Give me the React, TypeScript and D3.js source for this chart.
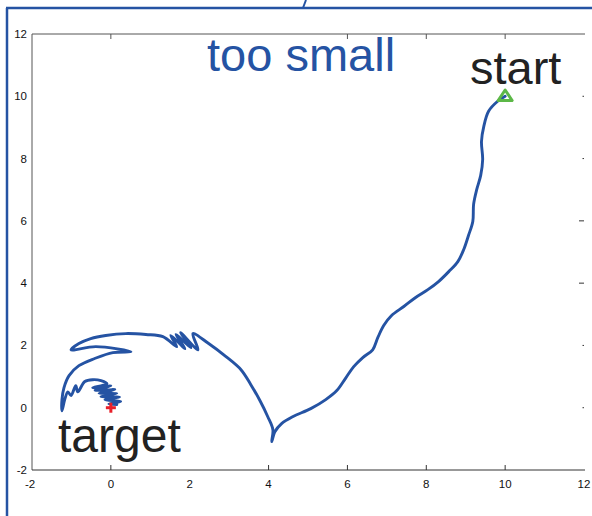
import React from "react";
import * as d3 from "d3";

// Trajectory from start (10,10) to the target at the origin
const pathX = [
  10.0, 9.81, 9.58, 9.46, 9.4, 9.43, 9.38, 9.28, 9.2, 9.18, 9.07, 8.95, 8.8, 8.57, 8.31, 8.04, 7.73, 7.43, 7.12, 6.92,
  6.77, 6.64, 6.39, 6.16, 5.96, 5.73, 5.45, 5.07, 4.61, 4.33, 4.16, 4.08, 4.11, 3.98, 3.78, 3.55, 3.3, 2.92, 2.48, 2.08,
  2.21, 1.77, 2.03, 1.65, 1.88, 1.52, 1.67, 1.32, 0.89, 0.38, -0.13, -0.51, -0.81, -1.01, -0.38, 0.51, 0.05, -0.41,
  -0.81, -1.06, -1.19, -1.24, -1.24, -1.17, -1.09, -1.01, -0.89, -0.84, -0.66, -0.46, -0.25, -0.1, -0.46, 0.0, -0.4,
  0.1, -0.3, 0.15, -0.25, 0.22, -0.15, 0.25, -0.05, 0.15,
];
const pathY = [
  10.0, 9.84, 9.52, 9.04, 8.55, 7.97, 7.46, 7.01, 6.53, 5.98, 5.53, 5.08, 4.69, 4.37, 4.05, 3.79, 3.54, 3.25, 2.96, 2.64,
  2.25, 1.86, 1.61, 1.32, 0.96, 0.55, 0.26, -0.03, -0.29, -0.51, -0.77, -1.09, -0.71, -0.29, 0.23, 0.74, 1.22, 1.64, 2.06,
  2.38, 1.86, 2.41, 1.93, 2.35, 1.9, 2.32, 1.96, 2.28, 2.35, 2.38, 2.32, 2.22, 2.06, 1.86, 1.96, 1.8, 1.77, 1.58, 1.35,
  1.03, 0.64, 0.26, -0.1, 0.26, 0.51, 0.39, 0.71, 0.51, 0.84, 0.9, 0.87, 0.77, 0.64, 0.7, 0.56, 0.58, 0.46, 0.46, 0.36,
  0.34, 0.26, 0.2, 0.12, 0.1,
];

const startPoint = [10, 10];
const targetPoint = [0, 0];

const xTicks = [-2, 0, 2, 4, 6, 8, 10, 12];
const yTicks = [-2, 0, 2, 4, 6, 8, 10, 12];
const bottomTickMarks = [0, 4, 6, 8, 10];
const topTickMarks = [0, 6, 8, 10];
const rightTickMarks = [10, 8, 6, 4, 2, 0];

const W = 592;
const H = 516;
const BLUE = "#2553a3";
const AXIS = "#555";

export default function App() {
  const x = d3.scaleLinear().domain([-2, 12]).range([32, 584]);
  const y = d3.scaleLinear().domain([-2, 12]).range([470, 34]);

  const pts: [number, number][] = pathX.map((v, i) => [v, pathY[i]]);
  const line = d3
    .line<[number, number]>()
    .x((d) => x(d[0]))
    .y((d) => y(d[1]))
    .curve(d3.curveCatmullRom.alpha(0.5));

  const sx = x(startPoint[0]);
  const sy = y(startPoint[1]);
  const tri = 7;
  const triPath = `M${sx},${sy - tri * 0.9} L${sx + tri},${sy + tri * 0.6} L${sx - tri},${sy + tri * 0.6} Z`;

  const tx = x(targetPoint[0]);
  const ty = y(targetPoint[1]);

  const font = "'Liberation Sans', Arial, Helvetica, sans-serif";

  return (
    <svg
      width={W}
      height={H}
      style={{ position: "absolute", left: 0, top: 0, background: "#fff" }}
      fontFamily={font}
    >
      {/* outer blue frame */}
      <line x1={7} y1={516} x2={7} y2={8} stroke={BLUE} strokeWidth={2.5} />
      <line x1={6} y1={8} x2={592} y2={8} stroke={BLUE} strokeWidth={2.5} />
      <line x1={303} y1={8} x2={306} y2={0} stroke={BLUE} strokeWidth={2} />

      {/* axes box (open on the right) */}
      <line x1={x(-2)} y1={y(12)} x2={x(-2)} y2={y(-2)} stroke={AXIS} strokeWidth={1} />
      <line x1={x(-2)} y1={y(12)} x2={x(12) + 1} y2={y(12)} stroke={AXIS} strokeWidth={1} />
      <line x1={x(-2)} y1={y(-2)} x2={x(12) + 1} y2={y(-2)} stroke="#333" strokeWidth={1} />

      {bottomTickMarks.map((t) => (
        <line key={"b" + t} x1={x(t)} x2={x(t)} y1={y(-2)} y2={y(-2) - 5} stroke="#333" />
      ))}
      {topTickMarks.map((t) => (
        <line key={"t" + t} x1={x(t)} x2={x(t)} y1={y(12)} y2={y(12) + 5} stroke={AXIS} />
      ))}
      {rightTickMarks.map((t) => (
        <line
          key={"r" + t}
          x1={x(12) - (t === 6 || t === 4 ? 5 : 1.5)}
          x2={x(12)}
          y1={y(t)}
          y2={y(t)}
          stroke="#333"
        />
      ))}

      {xTicks.map((t) => (
        <text key={"xl" + t} x={x(t) + (t < 0 ? -2 : 0)} y={488} fontSize={11.5} textAnchor="middle" fill="#111">
          {t}
        </text>
      ))}
      {yTicks.map((t) => (
        <text key={"yl" + t} x={27} y={y(t) + 4} fontSize={11.5} textAnchor="end" fill="#111">
          {t}
        </text>
      ))}

      {/* trajectory */}
      <path
        d={line(pts) || ""}
        fill="none"
        stroke={BLUE}
        strokeWidth={2.9}
        strokeLinejoin="round"
        strokeLinecap="round"
      />

      {/* start marker */}
      <path d={triPath} fill="none" stroke="#5cb847" strokeWidth={3} strokeLinejoin="round" />

      {/* target marker */}
      <line x1={tx - 5} x2={tx + 5} y1={ty} y2={ty} stroke="#e8202a" strokeWidth={3} />
      <line x1={tx} x2={tx} y1={ty - 5} y2={ty + 5} stroke="#e8202a" strokeWidth={3} />

      {/* annotations */}
      <text x={207} y={71} fontSize={47} fill={BLUE}>
        too small
      </text>
      <text x={470} y={84} fontSize={47} fill="#222">
        start
      </text>
      <text x={58} y={452} fontSize={48} fill="#222">
        target
      </text>
    </svg>
  );
}
